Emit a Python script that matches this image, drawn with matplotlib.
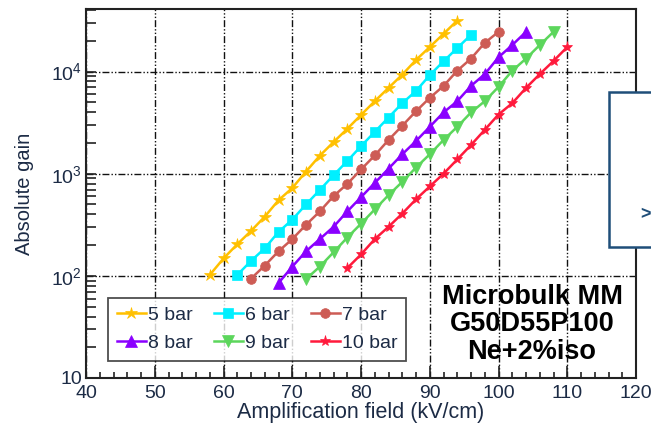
import matplotlib
matplotlib.use("Agg")
import matplotlib.pyplot as plt
from matplotlib.patches import Rectangle
from matplotlib.ticker import FixedLocator, FixedFormatter, NullFormatter

plt.rcParams['font.family'] = ['Liberation Sans', 'DejaVu Sans']

# field (kV/cm) and absolute gain for each pressure
field_5 = [58, 60, 62, 64, 66, 68, 70, 72, 74, 76, 78, 80, 82, 84, 86, 88, 90, 92, 94]
gain_5 = [102, 148, 204, 275, 380, 550, 724, 1050, 1500, 2040, 2750, 3760, 5130,
          6920, 9330, 13000, 17400, 23400, 31600]

field_6 = [62, 64, 66, 68, 70, 72, 74, 76, 78, 80, 82, 84, 86, 88, 90, 92, 94, 96]
gain_6 = [102, 140, 186, 269, 355, 500, 692, 966, 1330, 1860, 2570, 3550, 4900,
          6460, 9230, 12600, 17000, 22900]

field_7 = [64, 66, 68, 70, 72, 74, 76, 78, 80, 82, 84, 86, 88, 90, 92, 94, 96, 98, 100]
gain_7 = [94, 126, 174, 229, 316, 427, 603, 794, 1100, 1510, 2140, 2950, 4090,
          5530, 7230, 10200, 13400, 19100, 24500]

field_8 = [68, 70, 72, 74, 76, 78, 80, 82, 84, 86, 88, 90, 92, 94, 96, 98, 100, 102, 104]
gain_8 = [85, 123, 174, 229, 302, 427, 589, 813, 1120, 1550, 2090, 2880, 3980,
          5130, 7240, 9440, 13800, 18200, 24500]

field_9 = [72, 74, 76, 78, 80, 82, 84, 86, 88, 90, 92, 94, 96, 98, 100, 102, 104, 106, 108]
gain_9 = [93, 123, 170, 237, 324, 447, 617, 832, 1150, 1550, 2140, 2880, 3980,
          5130, 7080, 10200, 13400, 18200, 24500]

field_10 = [78, 80, 82, 84, 86, 88, 90, 92, 94, 96, 98, 100, 102, 104, 106, 108, 110]
gain_10 = [119, 162, 229, 302, 407, 562, 750, 1000, 1380, 1910, 2690, 3800, 4900,
           6920, 9440, 12700, 17400]

labels = ['5 bar', '6 bar', '7 bar', '8 bar', '9 bar', '10 bar']
x_ticks = [40, 50, 60, 70, 80, 90, 100, 110, 120]
y_ticks = [10, 100, 1000, 10000]
y_tick_labels = ['10', r'$\mathregular{10^2}$', r'$\mathregular{10^3}$', r'$\mathregular{10^4}$']

text_col = '#1c2b45'

fig = plt.figure(figsize=(6.51, 4.28), dpi=100)
ax = fig.add_axes([86 / 651, 50 / 428, 550 / 651, 369 / 428])

series = [
    (field_5, gain_5, '#FFC000', '*', 9),
    (field_6, gain_6, '#00F0FF', 's', 7),
    (field_7, gain_7, '#CD5C55', 'o', 7),
    (field_8, gain_8, '#8A00FF', '^', 8),
    (field_9, gain_9, '#5CD65C', 'v', 8),
    (field_10, gain_10, '#FF1A3C', '*', 8),
]
handles = []
for (x, y, c, m, ms), lab in zip(series, labels):
    h, = ax.plot(x, y, color=c, marker=m, markersize=ms, lw=1.8, label=lab,
                 markeredgewidth=0.5, zorder=3)
    handles.append(h)

ax.set_yscale('log')
ax.set_xlim(40, 120)
ax.set_ylim(10, 41000)

ax.xaxis.set_major_locator(FixedLocator(x_ticks))
ax.xaxis.set_minor_locator(FixedLocator(list(range(40, 121, 2))))
ax.yaxis.set_major_locator(FixedLocator(y_ticks))
ax.yaxis.set_major_formatter(FixedFormatter(y_tick_labels))
minors = [k * d for d in [10, 100, 1000, 10000] for k in range(2, 10)]
ax.yaxis.set_minor_locator(FixedLocator(minors))
ax.yaxis.set_minor_formatter(NullFormatter())

ax.tick_params(axis='both', which='both', direction='in', colors='#222222',
               labelcolor=text_col, labelsize=14, top=False, right=False)
ax.tick_params(axis='x', which='major', length=9, width=1.2, pad=5)
ax.tick_params(axis='x', which='minor', length=4.5, width=1.2)
ax.tick_params(axis='y', which='both', length=7, width=1.2, pad=3)

for s in ax.spines.values():
    s.set_linewidth(1.5)
    s.set_color('#222222')

ax.grid(True, which='major', color='#111111', lw=1.0,
        linestyle=(0, (5, 1.5, 1, 1.5, 1, 1.5)))
ax.set_axisbelow(True)

ax.set_xlabel('Amplification field (kV/cm)', fontsize=15.5, color=text_col)
ax.set_ylabel('Absolute gain', fontsize=14.5, color=text_col)
ax.xaxis.set_label_coords(0.5, -0.065)
ax.yaxis.set_label_coords(-0.095, 0.5)

# row-major legend order: 5 6 7 / 8 9 10
order = [0, 3, 1, 4, 2, 5]
leg = ax.legend([handles[i] for i in order], [labels[i] for i in order],
                ncol=3, loc='lower left', bbox_to_anchor=(0.04, 0.046, 0.542, 0.184),
                mode='expand', fontsize=14, frameon=True, fancybox=False,
                handlelength=1.5, handletextpad=0.1, borderpad=0.45,
                labelspacing=0.55, borderaxespad=0, columnspacing=0.8)
leg.get_frame().set_edgecolor('#222222')
leg.get_frame().set_linewidth(1.3)
for t in leg.get_texts():
    t.set_color(text_col)

ax.text(0.811, 0.146, 'Microbulk MM\nG50D55P100\nNe+2%iso', transform=ax.transAxes,
        ha='center', va='center', fontsize=19.5, fontweight='bold', color='black',
        linespacing=1.08, zorder=4)

# overlapping slide box on the right
box = Rectangle((609 / 651, 181 / 428), 0.2, 155 / 428, transform=fig.transFigure,
                facecolor='white', edgecolor='#1F4E79', lw=1.8, zorder=10)
fig.add_artist(box)
fig.text(640 / 651, 213 / 428, '>', color='#1F4E79', fontsize=13, fontweight='bold',
         ha='left', va='center', zorder=11)

fig.savefig('out.png', dpi=100)
